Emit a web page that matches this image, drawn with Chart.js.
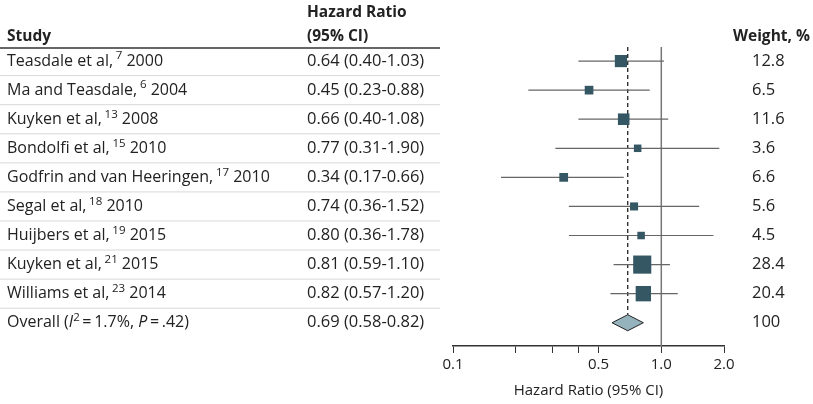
<!DOCTYPE html>
<html><head><meta charset="utf-8">
<script src="https://cdn.jsdelivr.net/npm/chart.js@4"></script>
<style>html,body{margin:0;padding:0;background:#fff}#w{width:813px;height:404px}</style>
</head><body><div id="w"><canvas id="c"></canvas></div>
<script>
const studyNames = ["Teasdale et al,", "Ma and Teasdale,", "Kuyken et al,", "Bondolfi et al,", "Godfrin and van Heeringen,", "Segal et al,", "Huijbers et al,", "Kuyken et al,", "Williams et al,"];
const studyRefs = ["7", "6", "13", "15", "17", "18", "19", "21", "23"];
const studyYears = ["2000", "2004", "2008", "2010", "2010", "2010", "2015", "2015", "2014"];
const hr = [0.64, 0.45, 0.66, 0.77, 0.34, 0.74, 0.80, 0.81, 0.82];
const lo = [0.40, 0.23, 0.40, 0.31, 0.17, 0.36, 0.36, 0.59, 0.57];
const hi = [1.03, 0.88, 1.08, 1.90, 0.66, 1.52, 1.78, 1.10, 1.20];
const weights = [12.8, 6.5, 11.6, 3.6, 6.6, 5.6, 4.5, 28.4, 20.4];
const overall = {hr: 0.69, lo: 0.58, hi: 0.82, weight: 100};
const tickValues = [0.1, 0.2, 0.3, 0.4, 0.5, 1.0, 2.0];
const labelledTicks = [0.1, 0.5, 1.0, 2.0];

const FONT = '"Open Sans", "Noto Sans", sans-serif';
const fmt = v => v.toFixed(2);

const forest = {
  id: 'forest',
  afterDraw(chart) {
    const ctx = chart.ctx, x = chart.scales.x, y = chart.scales.y;
    ctx.save();
    const top = 47;
    ctx.strokeStyle = '#777'; ctx.lineWidth = 1.5;
    ctx.beginPath(); ctx.moveTo(x.getPixelForValue(1), top); ctx.lineTo(x.getPixelForValue(1), chart.chartArea.bottom); ctx.stroke();
    const dTop = y.getPixelForValue(10) - 8;
    ctx.strokeStyle = '#222'; ctx.lineWidth = 1.3; ctx.setLineDash([4, 3]);
    ctx.beginPath(); ctx.moveTo(x.getPixelForValue(overall.hr), top); ctx.lineTo(x.getPixelForValue(overall.hr), dTop); ctx.stroke();
    ctx.setLineDash([]);
    hr.forEach((v, i) => {
      const py = y.getPixelForValue(i + 1);
      ctx.strokeStyle = '#666'; ctx.lineWidth = 1.2;
      ctx.beginPath(); ctx.moveTo(x.getPixelForValue(lo[i]), py); ctx.lineTo(x.getPixelForValue(hi[i]), py); ctx.stroke();
      const s = Math.max(7.5, Math.sqrt(weights[i]) * 3.4);
      ctx.fillStyle = '#355663';
      ctx.fillRect(x.getPixelForValue(v) - s / 2, py - s / 2, s, s);
    });
    const py = y.getPixelForValue(10);
    ctx.fillStyle = '#94b3bd'; ctx.strokeStyle = '#222'; ctx.lineWidth = 1;
    ctx.beginPath();
    ctx.moveTo(x.getPixelForValue(overall.lo), py);
    ctx.lineTo(x.getPixelForValue(overall.hr), py - 8);
    ctx.lineTo(x.getPixelForValue(overall.hi), py);
    ctx.lineTo(x.getPixelForValue(overall.hr), py + 8);
    ctx.closePath(); ctx.fill(); ctx.stroke();

    ctx.fillStyle = '#222'; ctx.textBaseline = 'middle';
    ctx.font = 'bold 15.5px ' + FONT;
    ctx.fillText('Study', 7, 37);
    ctx.fillText('Hazard Ratio', 307, 13);
    ctx.fillText('(95% CI)', 307, 37);
    ctx.fillText('Weight, %', 733, 37);
    ctx.strokeStyle = '#333'; ctx.lineWidth = 1.5;
    ctx.beginPath(); ctx.moveTo(0, 48); ctx.lineTo(440, 48); ctx.stroke();
    ctx.strokeStyle = '#d8d8d8'; ctx.lineWidth = 1;
    for (let i = 1; i < 10; i++) {
      const ly = (y.getPixelForValue(i) + y.getPixelForValue(i + 1)) / 2;
      ctx.beginPath(); ctx.moveTo(0, ly); ctx.lineTo(440, ly); ctx.stroke();
    }
    const seg = (parts, x0, yy) => {
      let cx = x0;
      parts.forEach(p => {
        const sz = p.sup ? 11.5 : 16;
        ctx.font = (p.it ? 'italic ' : '') + sz + 'px ' + FONT;
        ctx.fillText(p.t, cx, yy + (p.sup ? -5 : 0));
        cx += ctx.measureText(p.t).width;
      });
    };
    ctx.fillStyle = '#222';
    const numFont = '16.5px ' + FONT;
    studyNames.forEach((n, i) => {
      const yy = y.getPixelForValue(i + 1);
      seg([{t: n + '\u2009'}, {t: studyRefs[i], sup: 1}, {t: ' ' + studyYears[i]}], 7, yy);
      ctx.font = numFont;
      ctx.fillText(fmt(hr[i]) + ' (' + fmt(lo[i]) + '-' + fmt(hi[i]) + ')', 307, yy);
      ctx.fillText(weights[i].toFixed(1), 752, yy);
    });
    const yo = y.getPixelForValue(10);
    seg([{t: 'Overall ('}, {t: 'I', it: 1}, {t: '2', sup: 1}, {t: '\u2009=\u20091.7%, '}, {t: 'P', it: 1}, {t: '\u2009=\u2009.42)'}], 7, yo);
    ctx.font = numFont;
    ctx.fillText(fmt(overall.hr) + ' (' + fmt(overall.lo) + '-' + fmt(overall.hi) + ')', 307, yo);
    ctx.fillText(String(overall.weight), 752, yo);
    ctx.restore();
  }
};

new Chart(document.getElementById('c'), {
  type: 'scatter',
  data: {datasets: [{data: hr.map((v, i) => ({x: v, y: i + 1})), pointRadius: 0}]},
  options: {
    responsive: true, maintainAspectRatio: false, animation: false,
    layout: {padding: {left: 453, right: 89, top: 32, bottom: 0}},
    plugins: {legend: {display: false}, tooltip: {enabled: false}},
    scales: {
      x: {
        type: 'logarithmic', min: 0.1, max: 2.0,
        afterBuildTicks: s => { s.ticks = tickValues.map(v => ({value: v})); },
        afterFit: s => { s.height = 58; },
        grid: {drawOnChartArea: false, color: '#333', tickLength: 7, tickColor: '#333'},
        border: {color: '#333', width: 1.5},
        ticks: {autoSkip: false, maxRotation: 0, color: '#222', font: {size: 15, family: FONT},
          callback: v => labelledTicks.includes(v) ? v.toFixed(1) : ''},
        title: {display: true, text: 'Hazard Ratio (95% CI)', color: '#222', font: {size: 15, family: FONT}, padding: {top: 0}}
      },
      y: {display: false, min: 0, max: 10.8, reverse: true}
    }
  },
  plugins: [forest]
});
</script></body></html>
